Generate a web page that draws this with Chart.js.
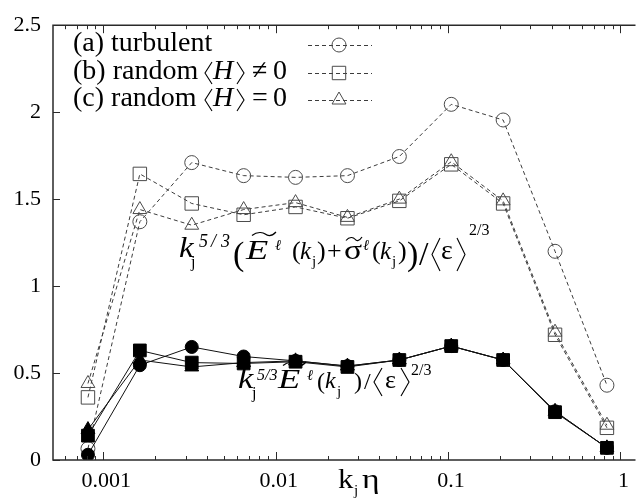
<!DOCTYPE html>
<html>
<head>
<meta charset="utf-8">
<script src="https://cdn.jsdelivr.net/npm/chart.js@4/dist/chart.umd.min.js"></script>
<style>
  html, body { margin: 0; padding: 0; background: #fff; }
</style>
</head>
<body>
<canvas id="c" width="644" height="499"></canvas>
<script>
// k_j * eta for each shell j
const kEta = [0.000815, 0.00163, 0.00326, 0.00652, 0.01304, 0.02608, 0.05216, 0.10432, 0.20864, 0.41728, 0.83456];

// k^{5/3} (E + sigma) / <eps>^{2/3}  (open symbols, dashed)
const totalTurbulent = [0.065, 1.37, 1.71, 1.635, 1.625, 1.635, 1.745, 2.045, 1.955, 1.20, 0.43];
const totalRandomH   = [0.36, 1.645, 1.475, 1.41, 1.455, 1.39, 1.49, 1.70, 1.475, 0.72, 0.185];
const totalRandom0   = [0.44, 1.44, 1.35, 1.44, 1.48, 1.395, 1.50, 1.715, 1.49, 0.735, 0.20];

// k^{5/3} E / <eps>^{2/3}  (filled symbols, solid)
const energyTurbulent = [0.03, 0.545, 0.65, 0.595, 0.57, 0.54, 0.575, 0.655, 0.575, 0.28, 0.07];
const energyRandomH   = [0.14, 0.63, 0.56, 0.555, 0.565, 0.535, 0.575, 0.655, 0.575, 0.275, 0.07];
const energyRandom0   = [0.175, 0.575, 0.535, 0.56, 0.57, 0.54, 0.575, 0.655, 0.575, 0.28, 0.07];

const yTicks = [0, 0.5, 1, 1.5, 2, 2.5];
const xLabelTicks = [0.001, 0.01, 0.1, 1];
const legendLabels = ['(a) turbulent', '(b) random', '(c) random'];
const legendRelations = ['', '\u2260', '='];

const SERIF = '"Liberation Serif", serif';
const X_MIN = 0.000511, X_MAX = 1.19;

function series(label, ys, style, radius, filled) {
  return {
    label,
    data: kEta.map((x, i) => ({ x, y: ys[i] })),
    borderColor: filled ? '#111' : '#3c3c3c',
    borderWidth: 1,
    borderDash: filled ? [] : [4, 3],
    pointStyle: style,
    pointRadius: radius,
    pointHoverRadius: radius,
    pointBorderColor: filled ? '#000' : '#4a4a4a',
    pointBackgroundColor: filled ? '#000' : 'rgba(0,0,0,0)',
    pointBorderWidth: 1,
    tension: 0,
    fill: false
  };
}

// frame, inward ticks, key, formulas and axis title
const decorations = {
  id: 'decorations',
  afterDraw(chart) {
    const ctx = chart.ctx;
    const a = chart.chartArea;
    const xs = chart.scales.x, ys = chart.scales.y;
    ctx.save();
    ctx.strokeStyle = '#2a2a2a';
    ctx.lineWidth = 1.5;
    ctx.beginPath();
    ctx.moveTo(a.right + 2, a.top); ctx.lineTo(a.left, a.top);
    ctx.lineTo(a.left, a.bottom); ctx.lineTo(a.right + 2, a.bottom);
    ctx.stroke();

    ctx.lineWidth = 1;
    ctx.beginPath();
    for (let d = -4; d <= 0; d++) {
      for (let m = 1; m <= 9; m++) {
        const v = m * Math.pow(10, d);
        if (v < X_MIN || v > X_MAX) continue;
        const px = Math.round(xs.getPixelForValue(v)) + 0.5;
        const len = m === 1 ? 8 : 4;
        ctx.moveTo(px, a.bottom); ctx.lineTo(px, a.bottom - len);
        ctx.moveTo(px, a.top); ctx.lineTo(px, a.top + len);
      }
    }
    yTicks.forEach(v => {
      const py = Math.round(ys.getPixelForValue(v)) + 0.5;
      ctx.moveTo(a.left, py); ctx.lineTo(a.left + 7, py);
    });
    ctx.stroke();

    ctx.textBaseline = 'alphabetic';
    ctx.textAlign = 'left';

    const put = (s, x, y, font, sx = 1) => {
      ctx.save();
      ctx.translate(x, y);
      ctx.scale(sx, 1);
      ctx.fillStyle = '#000';
      ctx.font = font;
      ctx.fillText(s, 0, 0);
      const w = ctx.measureText(s).width * sx;
      ctx.restore();
      return x + w;
    };
    const angle = (x, y0, y1, w, open) => {
      const mid = (y0 + y1) / 2;
      ctx.beginPath();
      if (open) { ctx.moveTo(x + w, y0); ctx.lineTo(x, mid); ctx.lineTo(x + w, y1); }
      else { ctx.moveTo(x, y0); ctx.lineTo(x + w, mid); ctx.lineTo(x, y1); }
      ctx.lineWidth = 1.1; ctx.strokeStyle = '#000'; ctx.stroke();
    };
    const tilde = (x, y, w) => {
      ctx.beginPath();
      ctx.moveTo(x, y + 1.5);
      ctx.bezierCurveTo(x + w * 0.25, y - 3.5, x + w * 0.5, y - 1, x + w * 0.55, y);
      ctx.bezierCurveTo(x + w * 0.65, y + 2, x + w * 0.8, y + 3, x + w, y - 2);
      ctx.lineWidth = 1.2; ctx.strokeStyle = '#000'; ctx.stroke();
    };
    const it = s => 'italic ' + s + 'px ' + SERIF;
    const up = s => s + 'px ' + SERIF;

    // key
    const rows = [45, 73, 100];
    rows.forEach((y, i) => {
      const base = y + 6;
      put(legendLabels[i], 73, base, up(28));
      if (i > 0) {
        angle(205, y - 11, y + 11, 7, true);
        put('H', 213, base, it(28));
        angle(237, y - 11, y + 11, 7, false);
        put(legendRelations[i], 252, base, up(28));
        put('0', 273, base, up(28));
      }
    });
    const styles = ['circle', 'rect', 'triangle'];
    const radii = [7, 9.5, 8];
    rows.forEach((y, i) => {
      ctx.save();
      ctx.strokeStyle = '#3c3c3c';
      ctx.lineWidth = 1;
      ctx.setLineDash([4, 3]);
      ctx.beginPath(); ctx.moveTo(308, y + 0.5); ctx.lineTo(372, y + 0.5); ctx.stroke();
      ctx.setLineDash([]);
      ctx.strokeStyle = '#4a4a4a';
      ctx.fillStyle = 'rgba(0,0,0,0)';
      Chart.helpers.drawPoint(ctx, { pointStyle: styles[i], radius: radii[i], rotation: 0, borderWidth: 1 }, 339, y);
      ctx.restore();
    });

    // k^{5/3} (E + sigma) / <eps>^{2/3}
    put('k', 179, 257, it(30), 1.1);
    put('j', 191, 267, up(16));
    put('5', 199, 247, it(18));
    put('/', 211, 247, it(18));
    put('3', 221, 247, it(18));
    put('(', 233, 265, up(34));
    tilde(252, 234, 24);
    put('E', 246, 259, it(27), 1.35);
    put('\u2113', 275, 250, it(15));
    put('(', 292, 259, up(26));
    put('k', 300, 259, it(25));
    put('j', 312, 266, up(15));
    put(')', 317, 259, up(26));
    put('+', 327, 259, up(26));
    tilde(346, 239, 16);
    put('\u03c3', 344, 259, up(28), 1.2);
    put('\u2113', 363, 250, it(15));
    put('(', 372, 259, up(26));
    put('k', 380, 259, it(25));
    put('j', 392, 266, up(15));
    put(')', 398, 259, up(26));
    put(')', 407, 265, up(34));
    put('/', 419, 265, up(34));
    angle(432, 238, 271, 8, true);
    put('\u03b5', 441, 259, up(28));
    angle(457, 238, 271, 8, false);
    put('2/3', 469, 235, up(16));

    // k^{5/3} E / <eps>^{2/3}
    put('k', 238, 388, it(30), 1.15);
    put('j', 252, 398, up(16));
    put('5/3', 257, 380, it(16));
    tilde(283, 364, 23);
    put('E', 278, 388, it(27), 1.35);
    put('\u2113', 307, 380, it(15));
    put('(', 317, 389, up(24));
    put('k', 325, 388, it(24));
    put('j', 337, 396, up(15));
    put(')', 354, 389, up(24));
    put('/', 364, 389, up(24));
    angle(374, 368, 396, 8, true);
    put('\u03b5', 385, 388, up(26));
    angle(401, 368, 396, 8, false);
    put('2/3', 411, 375, up(16));

    // axis title k_j eta
    put('k', 338, 488, up(28), 1.1);
    put('j', 354, 495, up(15));
    put('\u03b7', 362, 488, up(28), 1.2);
    ctx.restore();
  }
};

new Chart(document.getElementById('c'), {
  type: 'line',
  data: {
    datasets: [
      series('turbulent E', energyTurbulent, 'circle', 6.5, true),
      series('random H E', energyRandomH, 'rect', 9, true),
      series('random 0 E', energyRandom0, 'triangle', 8, true),
      series('turbulent total', totalTurbulent, 'circle', 7, false),
      series('random H total', totalRandomH, 'rect', 9.5, false),
      series('random 0 total', totalRandom0, 'triangle', 8, false)
    ]
  },
  options: {
    responsive: false,
    animation: false,
    devicePixelRatio: 1,
    layout: { padding: { top: 20, right: 0, left: 0, bottom: 0 } },
    plugins: { legend: { display: false }, tooltip: { enabled: false } },
    scales: {
      x: {
        type: 'logarithmic',
        min: X_MIN,
        max: X_MAX,
        grid: { display: false, drawTicks: false },
        border: { display: false },
        afterBuildTicks(scale) { scale.ticks = xLabelTicks.map(v => ({ value: v, major: true })); },
        afterFit(scale) { scale.height = 39; },
        ticks: {
          autoSkip: false, maxRotation: 0, padding: 8, labelOffset: 3,
          color: '#000', font: { family: SERIF, size: 22 },
          callback: v => String(v)
        }
      },
      y: {
        type: 'linear',
        min: 0,
        max: 2.5,
        grid: { display: false, drawTicks: false },
        border: { display: false },
        afterBuildTicks(scale) { scale.ticks = yTicks.map(v => ({ value: v })); },
        afterFit(scale) { scale.width = 53; },
        ticks: {
          padding: 12,
          color: '#000', font: { family: SERIF, size: 22 },
          callback: v => String(v)
        }
      }
    }
  },
  plugins: [decorations]
});
</script>
</body>
</html>
